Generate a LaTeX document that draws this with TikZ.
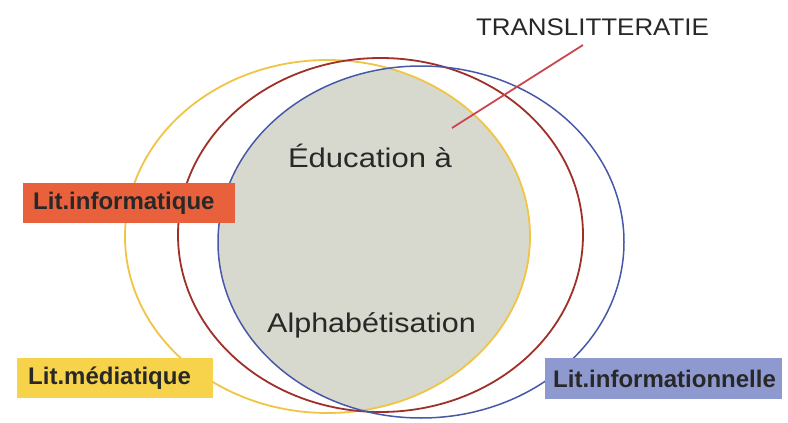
\documentclass[tikz,border=0pt]{standalone}
\usepackage{fontspec}
\setmainfont{Liberation Sans}
\definecolor{grayfill}{RGB}{216,217,206}
\definecolor{yelline}{RGB}{240,196,70}
\definecolor{redline}{RGB}{158,48,40}
\definecolor{blueline}{RGB}{72,88,168}
\definecolor{connline}{RGB}{204,70,80}
\definecolor{boxred}{RGB}{232,96,60}
\definecolor{boxyel}{RGB}{246,211,74}
\definecolor{boxblue}{RGB}{142,154,207}
\definecolor{txtdark}{RGB}{40,40,40}
\begin{document}
\begin{tikzpicture}[x=1pt,y=-1pt,
  labelbox/.style={anchor=west, inner ysep=0pt, minimum height=40pt, align=left,
    font=\bfseries\fontsize{24}{28}\selectfont, text=txtdark},
  bigtext/.style={anchor=base, inner sep=0pt, font=\fontsize{27}{32}\selectfont, text=txtdark},
  ring/.style={line width=1.8pt}]
\useasboundingbox (0,0) rectangle (788,423);
\fill[white] (0,0) rectangle (788,423);
% intersection fill
\begin{scope}
  \clip (327.5,236.5) ellipse [x radius=202.5pt, y radius=176.5pt];
  \fill[grayfill] (421,242) ellipse [x radius=203pt, y radius=176pt];
\end{scope}
% rings
\draw[ring, yelline] (327.5,236.5) ellipse [x radius=202.5pt, y radius=176.5pt];
\draw[ring, redline] (380.5,235) ellipse [x radius=202.5pt, y radius=177pt];
\draw[ring, blueline, line width=1.5pt] (421,242) ellipse [x radius=203pt, y radius=176pt];
% central texts
\node[bigtext] (edu) at (370,167) {\scalebox{1.15}[1]{Éducation à}};
\node[bigtext] (alpha) at (371.5,332) {\scalebox{1.13}[1]{Alphabétisation}};
% translitteratie
\node[anchor=base, inner sep=0pt, font=\fontsize{24}{28}\selectfont, text=txtdark] (trans) at (592.5,35) {\scalebox{1.08}[1]{TRANSLITTERATIE}};
\coordinate (tip) at (452,128);
\coordinate (tend) at (583,45);
\draw[connline, line width=1.8pt] (tip) -- (tend);
% labels
\node[labelbox, fill=boxred, inner xsep=10pt, text width=192pt] (inf) at (23,203) {Lit.informatique};
\node[labelbox, fill=boxyel, inner xsep=11pt, text width=174pt] (med) at (17,378) {Lit.médiatique};
\node[labelbox, fill=boxblue, inner xsep=8pt, text width=221pt, minimum height=41pt] (infl) at (545,378.5) {Lit.informationnelle};
\end{tikzpicture}
\end{document}
